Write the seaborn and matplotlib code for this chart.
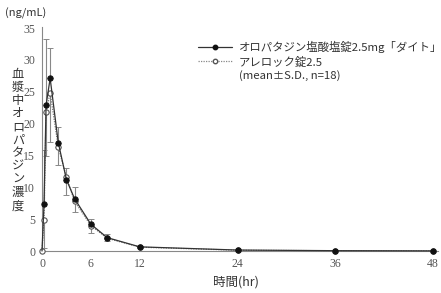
import matplotlib
matplotlib.use("Agg")
import matplotlib.pyplot as plt
from matplotlib.lines import Line2D
import seaborn as sns
import pandas as pd
import numpy as np

sns.set_theme(style="white")
plt.rcParams['font.family'] = ['Noto Sans CJK JP', 'DejaVu Sans']

# ---- data ----
time_hr = [0, 0.25, 0.5, 1, 2, 3, 4, 6, 8, 12, 24, 36, 48]
generic_mean = [0, 7.4, 22.9, 27.1, 17.0, 11.2, 8.2, 4.2, 2.1, 0.65, 0.15, 0.05, 0.02]
generic_sd   = [0, 8.5, 10.4, 4.7, 2.4, 1.8, 1.8, 0.9, 0.5, 0.2, 0.05, 0.02, 0.01]
brand_mean   = [0, 4.9, 21.9, 24.85, 16.3, 11.6, 7.8, 4.0, 2.0, 0.6, 0.12, 0.04, 0.02]
brand_sd     = [0, 4.5, 7.0, 7.7, 2.8, 2.8, 1.6, 1.2, 0.5, 0.2, 0.05, 0.02, 0.01]
label_generic = "オロパタジン塩酸塩錠2.5mg「ダイト」"
label_brand = "アレロック錠2.5"
note_text = "(mean±S.D., n=18)"
x_ticks = [0, 6, 12, 18, 24, 30, 36, 42, 48]
x_ticklabels = ["0", "6", "12", "", "24", "", "36", "", "48"]
y_ticks = [0, 5, 10, 15, 20, 25, 30, 35]
y_label = "血漿中オロパタジン濃度"
y_unit = "(ng/mL)"
x_label = "時間(hr)"

df = pd.DataFrame({"time": time_hr * 2,
                   "conc": generic_mean + brand_mean,
                   "series": [label_generic] * len(time_hr) + [label_brand] * len(time_hr)})

W, H = 441, 293
fig = plt.figure(figsize=(W / 100, H / 100), dpi=100)
ax = fig.add_axes([42 / W, 1 - 251 / H, (438 - 42) / W, (251 - 26.8) / H])

dark = "#333333"

# brand (open circles, dotted) – error bars downward
ax.errorbar(time_hr, brand_mean, yerr=[brand_sd, [0] * len(brand_sd)], fmt="none",
            ecolor="#888888", elinewidth=0.8, capsize=2, capthick=0.7,
            linestyle=":", zorder=1)
sns.lineplot(data=df[df.series == label_brand], x="time", y="conc", ax=ax,
             color="#777777", linestyle=(0, (1, 1)), linewidth=0.9,
             marker="o", markersize=3.8, markerfacecolor="white",
             markeredgecolor="#555555", markeredgewidth=0.8, zorder=4,
             legend=False, errorbar=None, clip_on=False)

# generic (filled circles, solid) – error bars upward
ax.errorbar(time_hr, generic_mean, yerr=[[0] * len(generic_sd), generic_sd], fmt="none",
            ecolor="#888888", elinewidth=0.8, capsize=2, capthick=0.7, zorder=2)
sns.lineplot(data=df[df.series == label_generic], x="time", y="conc", ax=ax,
             color=dark, linewidth=0.9, marker="o", markersize=3.8,
             markerfacecolor="#111111", markeredgecolor="#111111",
             markevery=slice(1, None), zorder=5, legend=False, errorbar=None,
             clip_on=False)

ax.set_xlim(0, 48.6)
ax.set_ylim(0, 35.2)
ax.set_xticks(x_ticks)
ax.set_xticklabels(x_ticklabels)
ax.set_yticks(y_ticks)
ax.set_xlabel("")
ax.set_ylabel("")
for s in ["top", "right"]:
    ax.spines[s].set_visible(False)
for s in ["left", "bottom"]:
    ax.spines[s].set_color("#888888")
    ax.spines[s].set_linewidth(0.8)
ax.tick_params(direction="in", length=3, width=0.7, color="#888888",
               labelcolor="#555555", labelsize=8.5, pad=5)
for lab in ax.get_xticklabels() + ax.get_yticklabels():
    lab.set_family(["Liberation Serif", "DejaVu Serif"])

# legend
handles = [Line2D([], [], color=dark, linewidth=0.9, marker="o", markersize=3.2,
                  markerfacecolor="#111111", markeredgecolor="#111111"),
           Line2D([], [], color="#888888", linewidth=0.9, linestyle=(0, (1, 1)),
                  marker="o", markersize=3.2, markerfacecolor="white",
                  markeredgecolor="#555555"),
           Line2D([], [], linestyle="none")]
leg = fig.legend(handles, [label_generic, label_brand, note_text],
                 loc="upper left", bbox_to_anchor=(198 / W, 1 - 41 / H),
                 frameon=False, fontsize=8.2, handlelength=3.0, handletextpad=0.6,
                 labelspacing=0.25, borderpad=0, borderaxespad=0)
for t in leg.get_texts():
    t.set_color(dark)

# axis labels
fig.text(18 / W, 1 - 140 / H, "\n".join(y_label), ha="center", va="center",
         fontsize=8.8, color=dark, linespacing=1.02)
fig.text(5 / W, 1 - 13 / H, y_unit, ha="left", va="center", fontsize=8, color=dark)
fig.text(236 / W, 1 - 282 / H, x_label, ha="center", va="center", fontsize=9, color=dark)

fig.savefig("out.png", dpi=100)
